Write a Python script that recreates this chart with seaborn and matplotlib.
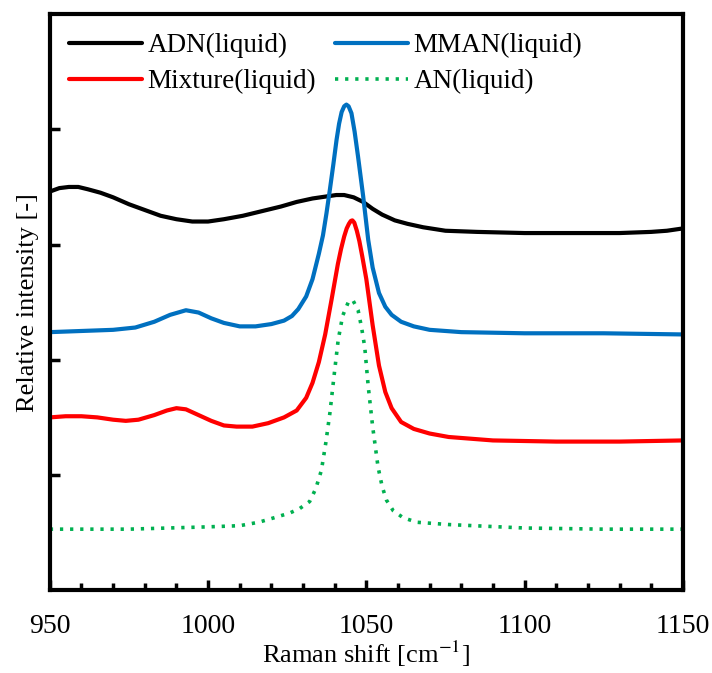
import numpy as np
import pandas as pd
import matplotlib
matplotlib.use("Agg")
import matplotlib.pyplot as plt
from matplotlib.ticker import MultipleLocator
import seaborn as sns

# ---- data (Raman shift cm-1 vs relative intensity, offset) ----
adn_x = [950, 953, 956, 959, 962, 966, 970, 975, 980, 985, 990, 995, 1000, 1005, 1011, 1017, 1023, 1028, 1033, 1038, 1040.5, 1043, 1044.5, 1046, 1047.5, 1049, 1052, 1055, 1059, 1063, 1068, 1075, 1085, 1100, 1115, 1130, 1140, 1145, 1150]
adn_y = [3.46, 3.49, 3.50, 3.50, 3.48, 3.45, 3.41, 3.35, 3.30, 3.25, 3.22, 3.20, 3.20, 3.22, 3.25, 3.29, 3.33, 3.37, 3.40, 3.42, 3.43, 3.43, 3.42, 3.41, 3.39, 3.37, 3.31, 3.26, 3.21, 3.18, 3.15, 3.12, 3.11, 3.10, 3.10, 3.10, 3.11, 3.12, 3.14]

mman_x = [950, 960, 970, 977, 983, 988, 993, 997, 1001, 1005, 1010, 1015, 1020, 1024, 1026.5, 1028.5, 1031, 1033, 1035, 1036.3, 1037.4, 1038.5, 1039.6, 1040.6, 1041.4, 1042.2, 1043.0, 1043.7, 1044.4, 1045.3, 1046.3, 1047.4, 1048.2, 1049, 1049.8, 1050.6, 1052, 1054, 1056, 1058, 1061, 1065, 1070, 1080, 1100, 1125, 1150]
mman_y = [2.24, 2.25, 2.26, 2.28, 2.33, 2.39, 2.43, 2.41, 2.36, 2.32, 2.29, 2.29, 2.31, 2.34, 2.38, 2.44, 2.55, 2.70, 2.92, 3.08, 3.27, 3.48, 3.70, 3.91, 4.05, 4.15, 4.20, 4.215, 4.20, 4.14, 3.98, 3.76, 3.59, 3.42, 3.23, 3.04, 2.80, 2.58, 2.46, 2.39, 2.33, 2.29, 2.26, 2.24, 2.23, 2.23, 2.22]

mix_x = [950, 955, 960, 965, 970, 974, 978, 983, 987, 990, 993, 997, 1001, 1005, 1009, 1014, 1019, 1024, 1028, 1031, 1033, 1035, 1037, 1039, 1041, 1042, 1043, 1043.8, 1044.5, 1045.1, 1045.6, 1046.2, 1047, 1047.8, 1048.7, 1050, 1051, 1052, 1054, 1056, 1058, 1061, 1065, 1070, 1076, 1090, 1110, 1130, 1150]
mix_y = [1.50, 1.51, 1.51, 1.50, 1.48, 1.47, 1.48, 1.52, 1.56, 1.58, 1.57, 1.52, 1.47, 1.43, 1.42, 1.42, 1.45, 1.50, 1.56, 1.67, 1.80, 1.98, 2.22, 2.52, 2.83, 2.96, 3.07, 3.14, 3.18, 3.205, 3.21, 3.19, 3.12, 3.03, 2.90, 2.70, 2.50, 2.30, 1.95, 1.72, 1.58, 1.46, 1.40, 1.36, 1.33, 1.30, 1.29, 1.29, 1.30]

an_x = [950, 975, 1000, 1010, 1016, 1021, 1025.8, 1029, 1032.1, 1034, 1035.8, 1037.2, 1038.5, 1039.8, 1041.1, 1042.5, 1044.3, 1045.7, 1047.4, 1048.5, 1049.5, 1050.6, 1052, 1053.7, 1055, 1056.4, 1058.5, 1061.6, 1065.9, 1076, 1100, 1125, 1150]
an_y = [0.53, 0.53, 0.55, 0.56, 0.59, 0.63, 0.67, 0.71, 0.77, 0.88, 1.04, 1.28, 1.54, 1.86, 2.17, 2.38, 2.50, 2.52, 2.43, 2.28, 2.11, 1.77, 1.42, 1.07, 0.90, 0.78, 0.69, 0.63, 0.59, 0.57, 0.54, 0.53, 0.53]

labels = ["ADN(liquid)", "MMAN(liquid)", "Mixture(liquid)", "AN(liquid)"]
x_ticks = [950, 1000, 1050, 1100, 1150]

sns.set_theme(style="ticks")
plt.rcParams["font.family"] = ["Liberation Serif", "DejaVu Serif"]
plt.rcParams["mathtext.fontset"] = "stix"
for k in ["text.color", "axes.labelcolor", "xtick.color", "ytick.color", "axes.edgecolor"]:
    plt.rcParams[k] = "black"

fig = plt.figure(figsize=(7.12, 6.73), dpi=100)
ax = fig.add_axes([0.070, 0.123, 0.889, 0.856])

lw = 3.0
sns.lineplot(x=adn_x, y=adn_y, ax=ax, color="#000000", lw=lw, label=labels[0])
sns.lineplot(x=mix_x, y=mix_y, ax=ax, color="#FF0000", lw=lw, label=labels[2])
sns.lineplot(x=mman_x, y=mman_y, ax=ax, color="#0070C0", lw=lw, label=labels[1])
sns.lineplot(x=an_x, y=an_y, ax=ax, color="#00B050", lw=2.6, label=labels[3])
ax.lines[-1].set_linestyle((0, (0.9, 1.9)))
for ln in ax.lines:
    ln.set_solid_joinstyle("round")

ax.set_xlim(950, 1150)
ax.set_ylim(0, 5)
ax.set_xticks(x_ticks)
ax.xaxis.set_minor_locator(MultipleLocator(10))
ax.set_yticks([1, 2, 3, 4])
ax.set_yticklabels([])
ax.tick_params(axis="x", which="major", direction="in", length=7, width=2.5,
               labelsize=20, pad=17)
ax.tick_params(axis="x", which="minor", direction="in", length=5, width=2.5)
ax.tick_params(axis="y", which="major", direction="in", length=7, width=2.5, left=True)
for s in ax.spines.values():
    s.set_linewidth(3)

ax.set_xlabel("Raman shift [cm$^{-1}$]", fontsize=19, labelpad=0)
ax.set_ylabel("Relative intensity [-]", fontsize=19, labelpad=4)

leg = ax.legend(loc="upper left", ncol=2, frameon=False, fontsize=19.5,
                handlelength=2.7, handletextpad=0.2, columnspacing=0.7,
                labelspacing=0.4, borderaxespad=0.3, bbox_to_anchor=(0.0, 1.0))

fig.savefig("out.png", dpi=100)
